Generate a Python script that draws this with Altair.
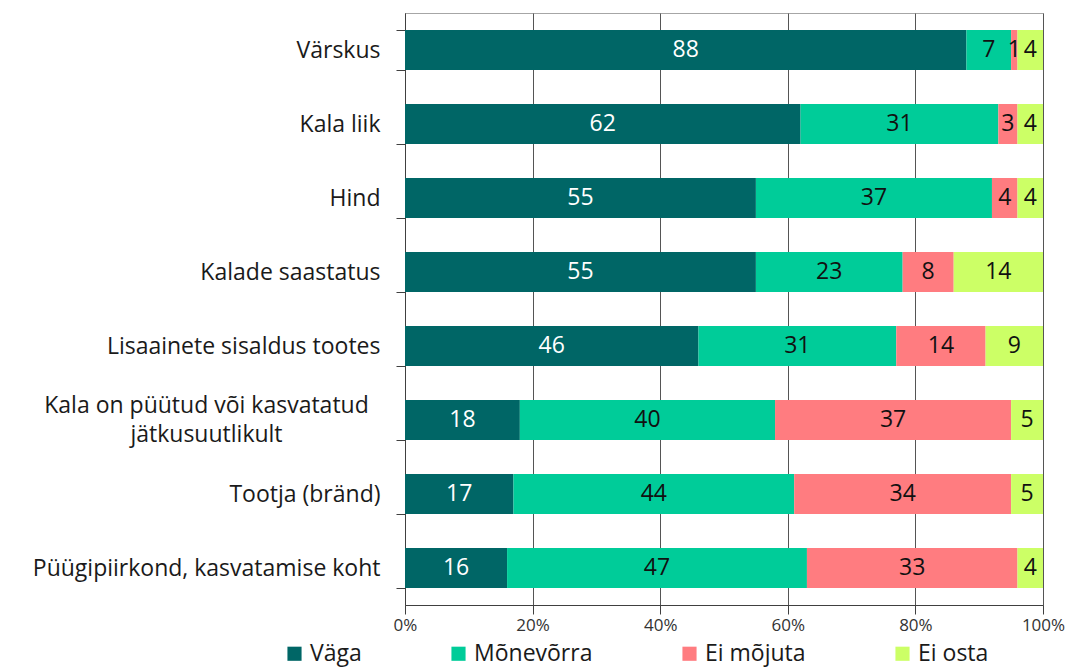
import altair as alt
import pandas as pd

categories = [
    "Värskus",
    "Kala liik",
    "Hind",
    "Kalade saastatus",
    "Lisaainete sisaldus tootes",
    "Kala on püütud või kasvatatud jätkusuutlikult",
    "Tootja (bränd)",
    "Püügipiirkond, kasvatamise koht",
]
series = ["Väga", "Mõnevõrra", "Ei mõjuta", "Ei osta"]
vaga = [88, 62, 55, 55, 46, 18, 17, 16]
monevorra = [7, 31, 37, 23, 31, 40, 44, 47]
ei_mojuta = [1, 3, 4, 8, 14, 37, 34, 33]
ei_osta = [4, 4, 4, 14, 9, 5, 5, 4]
colors = ["#006666", "#00CC99", "#FF7C80", "#CCFF66"]

rows = []
for i, c in enumerate(categories):
    for j, (s, vals) in enumerate(zip(series, [vaga, monevorra, ei_mojuta, ei_osta])):
        rows.append({"kategooria": c, "seeria": s, "order": j, "value": vals[i]})
df = pd.DataFrame(rows)

FONT = "Open Sans"
long_label = "Kala on püütud või kasvatatud jätkusuutlikult"
is_long = f"datum.value == '{long_label}'"

base = alt.Chart(df).transform_stack(
    stack="value",
    groupby=["kategooria"],
    sort=[alt.SortField("order", order="ascending")],
    as_=["x0", "x1"],
    offset="normalize",
).transform_calculate(mid="(datum.x0 + datum.x1) / 2")

y_enc = alt.Y(
    "kategooria:N",
    sort=categories,
    title=None,
    scale=alt.Scale(paddingInner=0.46, paddingOuter=0.23),
    axis=alt.Axis(
        tickBand="extent",
        tickSize=9,
        tickColor="#404040",
        domainColor="#404040",
        labelFont=FONT,
        labelFontSize=23,
        labelColor="#1a1a1a",
        labelLimit=500,
        labelLineHeight=29,
        labelAlign={"condition": {"test": is_long, "value": "center"}, "value": "right"},
        labelPadding={"condition": {"test": is_long, "value": 190}, "value": 16},
        labelOffset={"condition": {"test": is_long, "value": -15}, "value": 0},
        labelExpr=f"datum.label == '{long_label}' ? ['Kala on püütud või kasvatatud', 'jätkusuutlikult'] : datum.label",
    ),
)

bars = base.mark_bar().encode(
    y=y_enc,
    x=alt.X(
        "x0:Q",
        scale=alt.Scale(domain=[0, 1]),
        title=None,
        axis=alt.Axis(
            format="%",
            values=[0, 0.2, 0.4, 0.6, 0.8, 1.0],
            grid=True,
            gridColor="#555555",
            gridWidth=1,
            tickSize=9,
            tickColor="#404040",
            domainColor="#404040",
            labelFont=FONT,
            labelFontSize=17,
            labelColor="#333333",
            labelPadding=3,
            labelFlush=False,
        ),
    ),
    x2="x1:Q",
    color=alt.Color(
        "seeria:N",
        sort=series,
        scale=alt.Scale(domain=series, range=colors),
        legend=alt.Legend(
            title=None,
            orient="none",
            direction="horizontal",
            legendX=-122,
            legendY=629,
            symbolType="square",
            symbolSize=200,
            symbolStrokeWidth=0,
            labelFont=FONT,
            labelFontSize=23,
            labelColor="#1a1a1a",
            columnPadding=85,
            padding=0,
        ),
    ),
    order=alt.Order("order:Q"),
)

labels = base.mark_text(font=FONT, fontSize=23, baseline="middle", align="center").encode(
    y=alt.Y("kategooria:N", sort=categories),
    x=alt.X("mid:Q"),
    text=alt.Text("value:Q"),
    color=alt.condition("datum.seeria == 'Väga'", alt.value("white"), alt.value("#111111")),
)

chart = (
    alt.layer(bars, labels)
    .properties(
        width=638,
        height=592,
        autosize=alt.AutoSizeParams(type="none"),
        padding={"left": 397, "top": 5, "right": 23, "bottom": 64},
    )
    .configure_view(stroke="#A6A6A6", strokeWidth=1)
)

chart.save("out.html", embed_options={"renderer": "svg", "actions": False})
